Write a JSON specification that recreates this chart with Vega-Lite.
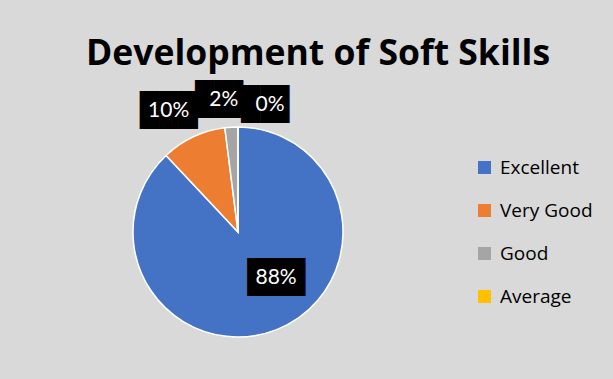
{
  "$schema": "https://vega.github.io/schema/vega-lite/v6.json",
  "width": 460,
  "height": 294,
  "autosize": "none",
  "padding": {"left": 8, "top": 85, "right": 145, "bottom": 0},
  "background": "#D9D9D9",
  "title": {"text": "Development of Soft Skills", "font": "Open Sans", "fontSize": 35.5, "fontWeight": "bold", "color": "#000000", "anchor": "middle", "dx": 80, "dy": 34, "offset": 17, "baseline": "alphabetic"},
  "config": {"view": {"stroke": null}},
  "data": {"values": [
    {"category": "Excellent", "value": 0.88},
    {"category": "Very Good", "value": 0.10},
    {"category": "Good", "value": 0.02},
    {"category": "Average", "value": 0}
  ]},
  "encoding": {
    "theta": {"field": "value", "type": "quantitative", "stack": true},
    "order": {"field": "value", "sort": "descending"}
  },
  "layer": [
    {
      "mark": {"type": "arc", "outerRadius": 105, "stroke": "#ffffff", "strokeWidth": 1.5},
      "encoding": {
        "color": {
          "field": "category", "type": "nominal",
          "scale": {"domain": ["Excellent", "Very Good", "Good", "Average"], "range": ["#4472C4", "#ED7D31", "#A5A5A5", "#FFC000"]},
          "legend": {"title": null, "orient": "none", "legendX": 467, "legendY": 73, "symbolType": "square", "symbolSize": 169, "symbolStrokeWidth": 0, "labelFont": "Open Sans", "labelFontSize": 19, "labelColor": "#000000", "labelOffset": 6, "rowPadding": 23, "padding": 0}
        }
      }
    },
    {
      "mark": {"type": "text", "radius": 60, "dx": 16, "dy": -10, "font": "DejaVu Sans Mono", "fontSize": 32, "align": "center", "baseline": "middle", "color": "#000000"},
      "encoding": {"text": {"value": "███"}, "opacity": {"condition": {"test": "datum.category === 'Excellent'", "value": 1}, "value": 0}}
    },
    {
      "mark": {"type": "text", "radius": 60, "dx": 16, "dy": -10, "font": "Lato", "fontSize": 21, "align": "center", "baseline": "middle", "color": "#ffffff"},
      "encoding": {"text": {"field": "value", "format": ".0%"}, "opacity": {"condition": {"test": "datum.category === 'Excellent'", "value": 1}, "value": 0}}
    },
    {
      "mark": {"type": "text", "radius": 130, "dx": -14, "dy": -3, "font": "DejaVu Sans Mono", "fontSize": 32, "align": "center", "baseline": "middle", "color": "#000000"},
      "encoding": {"text": {"value": "███"}, "opacity": {"condition": {"test": "datum.category === 'Very Good'", "value": 1}, "value": 0}}
    },
    {
      "mark": {"type": "text", "radius": 130, "dx": -14, "dy": -3, "font": "Lato", "fontSize": 21, "align": "center", "baseline": "middle", "color": "#ffffff"},
      "encoding": {"text": {"field": "value", "format": ".0%"}, "opacity": {"condition": {"test": "datum.category === 'Very Good'", "value": 1}, "value": 0}}
    },
    {
      "mark": {"type": "text", "radius": 130, "dx": -6, "dy": -2, "font": "DejaVu Sans Mono", "fontSize": 32, "align": "center", "baseline": "middle", "color": "#000000"},
      "encoding": {"text": {"value": "██▌"}, "opacity": {"condition": {"test": "datum.category === 'Good'", "value": 1}, "value": 0}}
    },
    {
      "mark": {"type": "text", "radius": 130, "dx": -6, "dy": -2, "font": "Lato", "fontSize": 21, "align": "center", "baseline": "middle", "color": "#ffffff"},
      "encoding": {"text": {"field": "value", "format": ".0%"}, "opacity": {"condition": {"test": "datum.category === 'Good'", "value": 1}, "value": 0}}
    },
    {
      "mark": {"type": "text", "radius": 130, "dx": 32, "dy": 3, "font": "DejaVu Sans Mono", "fontSize": 32, "align": "center", "baseline": "middle", "color": "#000000"},
      "encoding": {"text": {"value": "██▌"}, "opacity": {"condition": {"test": "datum.category === 'Average'", "value": 1}, "value": 0}}
    },
    {
      "mark": {"type": "text", "radius": 130, "dx": 32, "dy": 3, "font": "Lato", "fontSize": 21, "align": "center", "baseline": "middle", "color": "#ffffff"},
      "encoding": {"text": {"field": "value", "format": ".0%"}, "opacity": {"condition": {"test": "datum.category === 'Average'", "value": 1}, "value": 0}}
    }
  ]
}
